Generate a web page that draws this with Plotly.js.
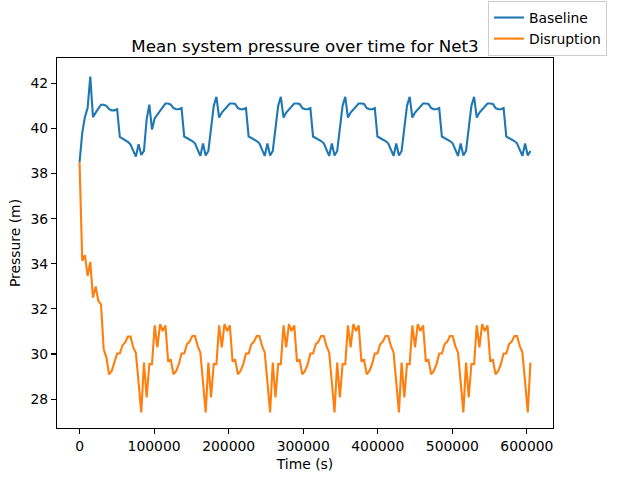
<!DOCTYPE html>
<html>
<head>
<meta charset="utf-8">
<script src="https://cdn.plot.ly/plotly-3.0.1.min.js"></script>
<style>html,body{margin:0;padding:0;background:#fff;}#chart{width:619px;height:483px;}</style>
</head>
<body>
<div id="chart"></div>
<script>
// Time (s), hourly report steps
const timeSec = [
0,3600,7200,10800,14400,18000,21600,25200,28800,32400,36000,39600,43200,46800,50400,54000,57600,61200,64800,68400,72000,75600,79200,82800,
86400,90000,93600,97200,100800,104400,108000,111600,115200,118800,122400,126000,129600,133200,136800,140400,144000,147600,151200,154800,158400,162000,165600,169200,
172800,176400,180000,183600,187200,190800,194400,198000,201600,205200,208800,212400,216000,219600,223200,226800,230400,234000,237600,241200,244800,248400,252000,255600,
259200,262800,266400,270000,273600,277200,280800,284400,288000,291600,295200,298800,302400,306000,309600,313200,316800,320400,324000,327600,331200,334800,338400,342000,
345600,349200,352800,356400,360000,363600,367200,370800,374400,378000,381600,385200,388800,392400,396000,399600,403200,406800,410400,414000,417600,421200,424800,428400,
432000,435600,439200,442800,446400,450000,453600,457200,460800,464400,468000,471600,475200,478800,482400,486000,489600,493200,496800,500400,504000,507600,511200,514800,
518400,522000,525600,529200,532800,536400,540000,543600,547200,550800,554400,558000,561600,565200,568800,572400,576000,579600,583200,586800,590400,594000,597600,601200,
604800
];

const baseline = [
38.5,39.8,40.5,40.9,42.3,40.5,40.7,40.9,41.05,41.05,41.0,40.85,40.8,40.8,40.85,39.62,39.55,39.48,39.4,39.28,39.05,38.75,39.3,38.82,
39.0,40.4,41.05,39.95,40.45,40.6,40.8,40.95,41.1,41.1,41.05,40.9,40.85,40.85,40.9,39.64,39.58,39.5,39.44,39.34,39.07,38.78,39.33,38.8,
39.0,40.1,41.0,41.4,40.48,40.7,40.85,41.0,41.1,41.1,41.08,40.9,40.85,40.85,40.9,39.64,39.58,39.5,39.44,39.34,39.07,38.78,39.33,38.8,
39.0,40.1,41.0,41.4,40.48,40.7,40.85,41.0,41.1,41.1,41.08,40.9,40.85,40.85,40.9,39.64,39.58,39.5,39.44,39.34,39.07,38.78,39.33,38.8,
39.0,40.1,41.0,41.4,40.48,40.7,40.85,41.0,41.1,41.1,41.08,40.9,40.85,40.85,40.9,39.64,39.58,39.5,39.44,39.34,39.07,38.78,39.33,38.8,
39.0,40.1,41.0,41.4,40.48,40.7,40.85,41.0,41.1,41.1,41.08,40.9,40.85,40.85,40.9,39.64,39.58,39.5,39.44,39.34,39.07,38.78,39.33,38.8,
39.0,40.1,41.0,41.4,40.48,40.7,40.85,41.0,41.1,41.1,41.08,40.9,40.85,40.85,40.9,39.64,39.58,39.5,39.44,39.34,39.07,38.78,39.33,38.8,
39.0
];

const disruption = [
38.5,34.13,34.38,33.46,34.08,32.5,32.99,32.35,32.2,30.21,29.84,29.1,29.25,29.62,30.02,30.02,30.39,30.51,30.77,30.77,30.29,30.04,28.75,27.41,
29.62,28.07,29.55,29.55,31.27,30.29,31.32,31.02,31.27,29.7,29.74,29.1,29.25,29.55,30.02,30.02,30.43,30.55,30.8,30.8,30.36,30.07,28.75,27.41,
29.62,28.07,29.55,29.55,31.27,30.29,31.32,31.02,31.27,29.7,29.74,29.1,29.25,29.55,30.02,30.02,30.43,30.55,30.8,30.8,30.36,30.07,28.75,27.41,
29.62,28.07,29.55,29.55,31.27,30.29,31.32,31.02,31.27,29.7,29.74,29.1,29.25,29.55,30.02,30.02,30.43,30.55,30.8,30.8,30.36,30.07,28.75,27.41,
29.62,28.07,29.55,29.55,31.27,30.29,31.32,31.02,31.27,29.7,29.74,29.1,29.25,29.55,30.02,30.02,30.43,30.55,30.8,30.8,30.36,30.07,28.75,27.41,
29.62,28.07,29.55,29.55,31.27,30.29,31.32,31.02,31.27,29.7,29.74,29.1,29.25,29.55,30.02,30.02,30.43,30.55,30.8,30.8,30.36,30.07,28.75,27.41,
29.62,28.07,29.55,29.55,31.27,30.29,31.32,31.02,31.27,29.7,29.74,29.1,29.25,29.55,30.02,30.02,30.43,30.55,30.8,30.8,30.36,30.07,28.75,27.41,
29.62
];

const seriesNames = ["Baseline", "Disruption"];
const xTicks = [0,100000,200000,300000,400000,500000,600000];
const yTicks = [28,30,32,34,36,38,40,42];

const font = "DejaVu Sans, sans-serif";

const traces = [
  {x: timeSec, y: baseline, name: seriesNames[0], type: "scatter", mode: "lines",
   line: {color: "#1f77b4", width: 2.1}},
  {x: timeSec, y: disruption, name: seriesNames[1], type: "scatter", mode: "lines",
   line: {color: "#ff7f0e", width: 2.1}}
];

const axisCommon = {
  showline: true, mirror: true, linecolor: "#000", linewidth: 1.1,
  ticks: "outside", ticklen: 5, tickwidth: 1.1, tickcolor: "#000",
  showgrid: false, zeroline: false,
  tickfont: {family: font, size: 13.9, color: "#000"}
};

const layout = {
  width: 619, height: 483,
  margin: {l: 57, r: 66, t: 58, b: 55, autoexpand: false},
  paper_bgcolor: "#fff", plot_bgcolor: "#fff",
  font: {family: font, color: "#000"},
  title: {text: "Mean system pressure over time for Net3",
          font: {family: font, size: 16.7, color: "#000"},
          xref: "paper", x: 0.5, xanchor: "center",
          yref: "container", y: 1 - 46/483, yanchor: "middle"},
  xaxis: Object.assign({}, axisCommon, {
    range: [-30240, 635040], tickvals: xTicks, ticktext: xTicks.map(String),
    title: {text: "Time (s)", font: {family: font, size: 13.9, color: "#000"}, standoff: 6}
  }),
  yaxis: Object.assign({}, axisCommon, {
    range: [26.72, 43.12], tickvals: yTicks, ticktext: yTicks.map(String),
    title: {text: "Pressure (m)", font: {family: font, size: 13.9, color: "#000"}, standoff: 6}
  }),
  showlegend: true,
  legend: {xref: "container", x: 607/619, xanchor: "right",
           yref: "container", y: 1 - 1/483, yanchor: "top",
           bgcolor: "#fff", bordercolor: "#cccccc", borderwidth: 1,
           font: {family: font, size: 13.9, color: "#000"},
           itemwidth: 30, tracegroupgap: 0}
};

Plotly.newPlot("chart", traces, layout, {displayModeBar: false, staticPlot: true});
</script>
</body>
</html>
